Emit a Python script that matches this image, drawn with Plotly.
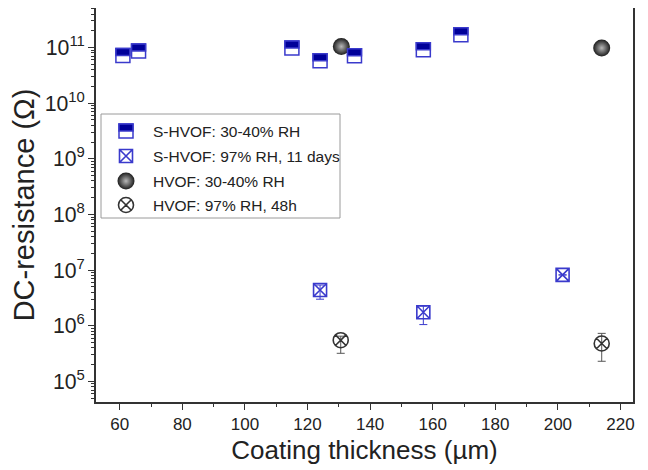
import plotly.graph_objects as go

# ---------------- data ----------------
# S-HVOF, 30-40% RH
shvof_dry_x = [61, 66, 115, 124, 135, 157, 169]
shvof_dry_y = [7.2e10, 8.7e10, 9.8e10, 5.8e10, 7.1e10, 9.1e10, 1.7e11]
# S-HVOF, 97% RH, 11 days
shvof_wet_x = [124, 157, 201.5]
shvof_wet_y = [4.4e6, 1.75e6, 8.2e6]
shvof_wet_err_plus = [1.0e6, 0.5e6, 0.0]
shvof_wet_err_minus = [1.4e6, 0.7e6, 0.0]
# HVOF, 30-40% RH
hvof_dry_x = [130.8, 214]
hvof_dry_y = [1.04e11, 9.8e10]
# HVOF, 97% RH, 48h
hvof_wet_x = [130.6, 214]
hvof_wet_y = [5.5e5, 4.8e5]
hvof_wet_err_plus = [1.0e5, 2.5e5]
hvof_wet_err_minus = [2.3e5, 2.5e5]

legend_labels = ["S-HVOF: 30-40% RH", "S-HVOF: 97% RH, 11 days",
                 "HVOF: 30-40% RH", "HVOF: 97% RH, 48h"]
x_tick_vals = [60, 80, 100, 120, 140, 160, 180, 200, 220]

# ---------------- styles ----------------
NAVY = "#000099"
BLUE = "#3a3acc"
DARK = "#333333"
FONT = "Liberation Sans, Arial, sans-serif"

# page offset of the plot div (default body margin)
OFF = 8
# plot area in page pixels
L, R, T, B = 96, 633, 8, 402
W, H = 648 - OFF, 470 - OFF

fig = go.Figure()

# S-HVOF dry: white square with blue border (top half filled via shapes)
fig.add_trace(go.Scatter(
    x=shvof_dry_x, y=shvof_dry_y, mode="markers", showlegend=False,
    marker=dict(symbol="square", size=14, color="white",
                line=dict(color=BLUE, width=1.5))))

# S-HVOF wet
fig.add_trace(go.Scatter(
    x=shvof_wet_x, y=shvof_wet_y, mode="markers", showlegend=False,
    error_y=dict(type="data", array=shvof_wet_err_plus,
                 arrayminus=shvof_wet_err_minus, color=BLUE,
                 thickness=1, width=4),
    marker=dict(symbol="square-x-open", size=13, color=BLUE,
                line=dict(color=BLUE, width=1.6))))

# HVOF dry: spheres
fig.add_trace(go.Scatter(
    x=hvof_dry_x, y=hvof_dry_y, mode="markers", showlegend=False,
    marker=dict(symbol="circle", size=17, color="#1c1c1c",
                gradient=dict(type="radial", color="#b8b8b8"),
                line=dict(width=0))))

# HVOF wet
fig.add_trace(go.Scatter(
    x=hvof_wet_x, y=hvof_wet_y, mode="markers", showlegend=False,
    error_y=dict(type="data", array=hvof_wet_err_plus,
                 arrayminus=hvof_wet_err_minus, color="#555555",
                 thickness=1, width=4),
    marker=dict(symbol="circle-x-open", size=15, color=DARK,
                line=dict(color=DARK, width=1.6))))

shapes = []
# top-half navy fill + divider for S-HVOF dry squares
for xv, yv in zip(shvof_dry_x, shvof_dry_y):
    shapes.append(dict(type="rect", xref="x", yref="y", xsizemode="pixel",
                       ysizemode="pixel", xanchor=xv, yanchor=yv,
                       x0=-7, x1=7, y0=0, y1=7, fillcolor=NAVY,
                       line=dict(color=BLUE, width=1.5), layer="above"))
    shapes.append(dict(type="line", xref="x", yref="y", xsizemode="pixel",
                       ysizemode="pixel", xanchor=xv, yanchor=yv,
                       x0=0, x1=0, y0=-7, y1=0,
                       line=dict(color=BLUE, width=1.5), layer="above"))

# ---------------- manual legend (page-pixel overlay axes) ----------------
leg_x0, leg_x1, leg_y0, leg_y1 = 101, 340, 114, 218
row_y = [131, 156, 181, 205]
mark_x = 126
text_x = 151
shapes.append(dict(type="rect", xref="x2", yref="y2", x0=leg_x0, x1=leg_x1,
                   y0=leg_y0, y1=leg_y1, fillcolor="white",
                   line=dict(color="#9a9a9a", width=1), layer="below"))

fig.add_trace(go.Scatter(
    x=[mark_x], y=[row_y[0]], xaxis="x2", yaxis="y2", mode="markers",
    showlegend=False,
    marker=dict(symbol="square", size=14, color="white",
                line=dict(color=BLUE, width=1.5))))
shapes.append(dict(type="rect", xref="x2", yref="y2", xsizemode="pixel",
                   ysizemode="pixel", xanchor=mark_x, yanchor=row_y[0],
                   x0=-7, x1=7, y0=0, y1=7, fillcolor=NAVY,
                   line=dict(color=BLUE, width=1.5), layer="above"))
fig.add_trace(go.Scatter(
    x=[mark_x], y=[row_y[1]], xaxis="x2", yaxis="y2", mode="markers",
    showlegend=False,
    marker=dict(symbol="square-x-open", size=13, color=BLUE,
                line=dict(color=BLUE, width=1.6))))
fig.add_trace(go.Scatter(
    x=[mark_x], y=[row_y[2]], xaxis="x2", yaxis="y2", mode="markers",
    showlegend=False,
    marker=dict(symbol="circle", size=17, color="#1c1c1c",
                gradient=dict(type="radial", color="#b8b8b8"),
                line=dict(width=0))))
fig.add_trace(go.Scatter(
    x=[mark_x], y=[row_y[3]], xaxis="x2", yaxis="y2", mode="markers",
    showlegend=False,
    marker=dict(symbol="circle-x-open", size=15, color=DARK,
                line=dict(color=DARK, width=1.6))))

annotations = []
for lab, yy in zip(legend_labels, row_y):
    annotations.append(dict(x=text_x, y=yy, xref="x2", yref="y2", text=lab,
                            showarrow=False, xanchor="left", yanchor="middle",
                            font=dict(family=FONT, size=15.5, color="#222")))

fig.update_layout(
    width=W, height=H,
    margin=dict(l=L - OFF, r=W - (R - OFF), t=T - OFF, b=H - (B - OFF),
                pad=0, autoexpand=False),
    paper_bgcolor="white", plot_bgcolor="white",
    font=dict(family=FONT, color="#222"),
    shapes=shapes, annotations=annotations,
    xaxis=dict(range=[52.4, 224.0], tickvals=x_tick_vals,
               ticks="outside", ticklen=6, tickwidth=1.2, tickcolor="#333",
               minor=dict(dtick=10, tick0=0, ticks="outside", ticklen=3,
                          tickcolor="#333", showgrid=False),
               showline=True, linecolor="#333", linewidth=1.5, mirror=True,
               showgrid=False, zeroline=False, automargin=False,
               tickfont=dict(size=17, family=FONT, color="#222"),
               title=dict(text="Coating thickness (µm)", standoff=8,
                          font=dict(size=26, family=FONT, color="#222"))),
    yaxis=dict(type="log", range=[4.63, 11.71], dtick=1,
               exponentformat="power", showexponent="all",
               ticks="outside", ticklen=6, tickwidth=1.2, tickcolor="#333",
               minor=dict(dtick="D1", ticks="outside", ticklen=3,
                          tickcolor="#333", showgrid=False),
               showline=True, linecolor="#333", linewidth=1.5, mirror=True,
               showgrid=False, zeroline=False, automargin=False,
               tickfont=dict(size=17, family=FONT, color="#222"),
               title=dict(text="DC-resistance (Ω)", standoff=4,
                          font=dict(size=29, family=FONT, color="#222"))),
    xaxis2=dict(range=[L, R], overlaying="x", visible=False, anchor="y2",
                fixedrange=True),
    yaxis2=dict(range=[B, T], overlaying="y", visible=False, anchor="x2",
                fixedrange=True),
)

fig.write_html("out.html")
